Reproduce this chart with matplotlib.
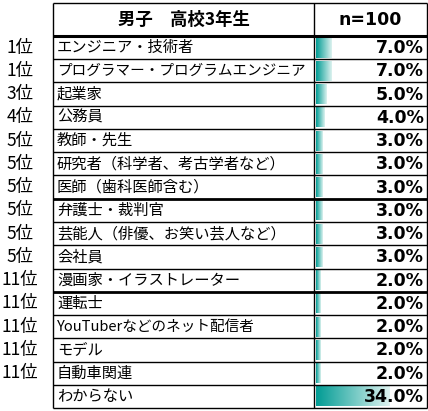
import numpy as np
import matplotlib
matplotlib.use("Agg")
import matplotlib.pyplot as plt

# table data
header_left = "男子　高校3年生"
header_right = "n=100"
ranks = ["1位", "1位", "3位", "4位", "5位", "5位", "5位", "5位", "5位", "5位",
         "11位", "11位", "11位", "11位", "11位", ""]
items = ["エンジニア・技術者", "プログラマー・プログラムエンジニア", "起業家", "公務員",
         "教師・先生", "研究者（科学者、考古学者など）", "医師（歯科医師含む）",
         "弁護士・裁判官", "芸能人（俳優、お笑い芸人など）", "会社員",
         "漫画家・イラストレーター", "運転士", "YouTuberなどのネット配信者",
         "モデル", "自動車関連", "わからない"]
values = [7.0, 7.0, 5.0, 4.0, 3.0, 3.0, 3.0, 3.0, 3.0, 3.0,
          2.0, 2.0, 2.0, 2.0, 2.0, 34.0]
thick_after = [7, 11]   # rows followed by a thick rule

W, H = 428, 411
jp = ['Noto Sans CJK JP', 'DejaVu Sans']

fig = plt.figure(figsize=(W / 100, H / 100), dpi=100)
fig.patch.set_facecolor("white")

# pixel layout
x_left, x_div, x_right = 53, 314, 427
y_top, y_head, y_bot = 3, 36, 408
n = len(items)
row_h = (y_bot - y_head) / n

# data bars in their own axes
bar_x0 = 316
bax = fig.add_axes([bar_x0 / W, (H - y_bot) / H, (x_right - bar_x0) / W, (y_bot - y_head) / H])
c0 = np.array([0.0, 0.61, 0.58])
c1 = np.array([0.87, 0.95, 0.94])
grad = np.linspace(0, 1, 256)[:, None] * (c1 - c0) + c0
grad = grad[None, :, :]
for i, v in enumerate(values):
    bax.imshow(grad, extent=(0, v, i + 0.93, i + 0.1), aspect="auto",
               interpolation="bilinear")
bax.set_xlim(0, max(values) * (x_right - bar_x0) / 74)
bax.set_ylim(n, 0)
bax.axis("off")

ax = fig.add_axes([0, 0, 1, 1])
ax.set_xlim(0, W)
ax.set_ylim(H, 0)
ax.axis("off")
ax.patch.set_alpha(0)

# grid lines
ax.vlines([x_left, x_div, x_right], y_top, y_bot, color="black", lw=1.0)
ax.hlines([y_top, y_bot], x_left, x_right, color="black", lw=1.0)
for i in range(1, n):
    y = y_head + i * row_h
    lw = 2.0 if i in thick_after else 1.0
    ax.hlines(y, x_left, x_right, color="black", lw=lw)
ax.hlines(y_head, x_left, x_right, color="black", lw=2.2)

# header
yh = (y_top + y_head) / 2
ax.text((x_left + x_div) / 2, yh, header_left, ha="center", va="center",
        fontsize=12.5, fontweight="bold", family=jp)
ax.text((x_div + x_right) / 2, yh + 0.5, header_right, ha="center", va="center",
        fontsize=12.5, fontweight="bold", family="DejaVu Sans")

# rows
for i in range(n):
    yc = y_head + (i + 0.5) * row_h
    ax.text(20, yc, ranks[i], ha="center", va="center", fontsize=12.5, family=jp)
    fs = 10.5 if len(items[i]) > 16 else 11
    ax.text(x_left + 4, yc, items[i], ha="left", va="center", fontsize=fs, family=jp)
    ax.text(x_right - 3, yc + 0.5, f"{values[i]:.1f}%", ha="right", va="center",
            fontsize=12.5, fontweight="bold", family="DejaVu Sans")

fig.savefig("out.png", dpi=100, facecolor="white")
